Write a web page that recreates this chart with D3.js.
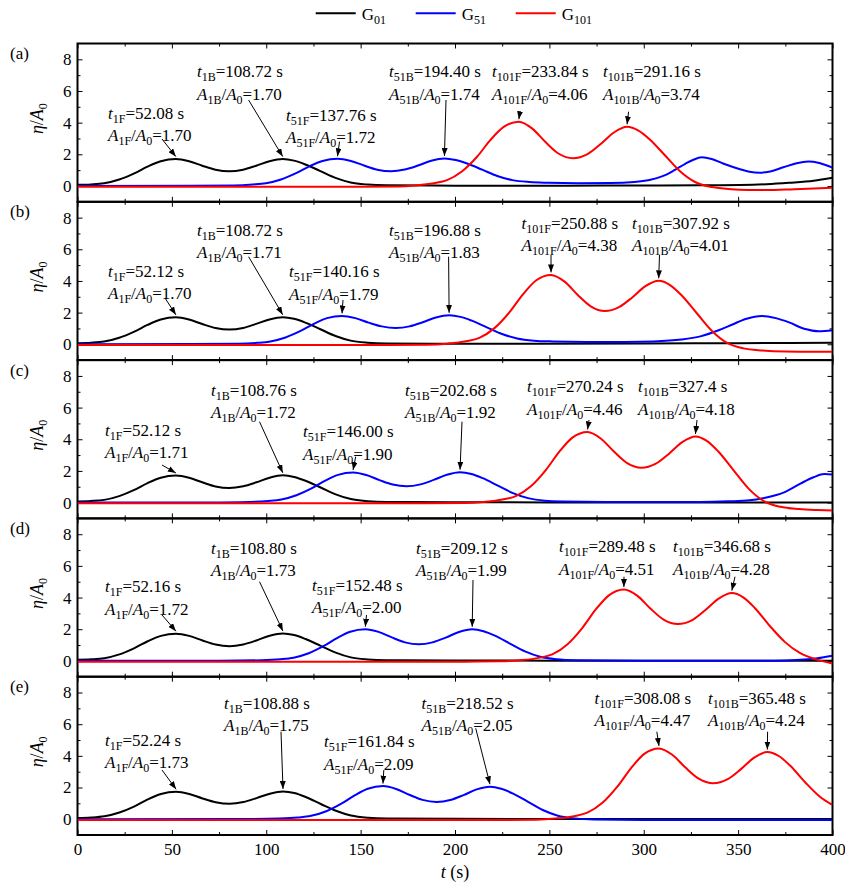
<!DOCTYPE html>
<html>
<head>
<meta charset="utf-8">
<script src="https://cdn.jsdelivr.net/npm/d3@7"></script>
<style>
body { margin: 0; background: #fff; }
text { font-family: "Liberation Serif", "Times New Roman", serif; fill: #000; }
</style>
</head>
<body>
<svg id="chart" width="845" height="886"></svg>
<script>
// ---- data ----
const panelNames = ["(a)", "(b)", "(c)", "(d)", "(e)"];
const seriesSubs = ["01", "51", "101"];
const xTicks = [0, 50, 100, 150, 200, 250, 300, 350, 400];
const xMinor = [25, 75, 125, 175, 225, 275, 325, 375];
const yTicks = [0, 2, 4, 6, 8];
const yMinor = [1, 3, 5, 7];

// [t (s), eta/A0]
const G01 = [
  [[0,0.07],[7.1,0.1],[14.1,0.17],[22.1,0.41],[30.1,0.8],[37.1,1.22],[44.1,1.56],[52.08,1.70],[59.1,1.56],[66.1,1.28],[73.1,1.03],[80.4,0.93],[87.7,1.03],[94.7,1.28],[101.7,1.56],[108.72,1.70],[114.7,1.6],[120.7,1.36],[128.7,0.94],[136.7,0.51],[144.7,0.22],[153.7,0.09],[163.7,0.04],[200,0.02],[260,0.02],[300,0.03],[330,0.04],[351,0.06],[365,0.11],[377,0.2],[390,0.33],[400,0.52]],
  [[0,0.07],[7.1,0.1],[14.1,0.17],[22.1,0.41],[30.1,0.8],[37.1,1.22],[44.1,1.56],[52.12,1.70],[59.1,1.56],[66.1,1.28],[73.1,1.03],[80.4,0.93],[87.7,1.03],[94.7,1.29],[101.7,1.57],[108.72,1.71],[114.7,1.61],[120.7,1.37],[128.7,0.95],[136.7,0.52],[144.7,0.23],[153.7,0.1],[163.7,0.05],[200,0.03],[300,0.05],[350,0.07],[400,0.1]],
  [[0,0.07],[7.1,0.1],[14.1,0.17],[22.1,0.41],[30.1,0.8],[37.1,1.23],[44.1,1.57],[52.12,1.71],[59.1,1.57],[66.1,1.28],[73.1,1.02],[80.4,0.92],[87.8,1.03],[94.8,1.28],[101.8,1.57],[108.76,1.72],[114.8,1.62],[120.8,1.38],[128.8,0.95],[136.8,0.52],[144.8,0.22],[153.8,0.09],[163.8,0.04],[200,0.02],[300,0.01],[400,0.01]],
  [[0,0.07],[7.2,0.1],[14.2,0.17],[22.2,0.41],[30.2,0.81],[37.2,1.24],[44.2,1.58],[52.16,1.72],[59.2,1.58],[66.2,1.29],[73.2,1.03],[80.5,0.93],[87.8,1.04],[94.8,1.29],[101.8,1.59],[108.8,1.73],[114.8,1.63],[120.8,1.38],[128.8,0.95],[136.8,0.52],[144.8,0.22],[153.8,0.09],[163.8,0.04],[200,0.02],[300,0.01],[400,0]],
  [[0,0.07],[7.2,0.1],[14.2,0.18],[22.2,0.42],[30.2,0.81],[37.2,1.25],[44.2,1.59],[52.24,1.73],[59.2,1.59],[66.2,1.31],[73.2,1.07],[80.6,0.97],[87.9,1.08],[94.9,1.33],[101.9,1.61],[108.88,1.75],[114.9,1.65],[120.9,1.4],[128.9,0.96],[136.9,0.53],[144.9,0.23],[153.9,0.09],[163.9,0.04],[200,0.02],[300,0.01],[400,0.01]]
];

const G51 = [
  [[0,0],[60,0.01],[82.8,0.03],[92.8,0.09],[99.8,0.17],[107.8,0.41],[115.8,0.81],[122.8,1.24],[129.8,1.58],[137.76,1.72],[144.8,1.58],[151.8,1.29],[158.8,1.03],[166.1,0.93],[173.4,1.04],[180.4,1.29],[187.4,1.59],[194.4,1.74],[200.4,1.64],[206.4,1.42],[214.4,1.03],[222.4,0.63],[230.4,0.37],[239.4,0.25],[249.4,0.2],[265,0.17],[282,0.18],[295,0.25],[303,0.38],[310,0.62],[316,0.98],[322,1.4],[326,1.64],[330.7,1.81],[336,1.7],[342,1.42],[351,1.06],[356,0.9],[361.6,0.84],[367,0.92],[374,1.18],[381,1.44],[387.2,1.54],[393,1.45],[400,1.16]],
  [[0,0],[60,0.01],[85.2,0.03],[95.2,0.09],[102.2,0.18],[110.2,0.43],[118.2,0.84],[125.2,1.29],[132.2,1.65],[140.16,1.79],[147.2,1.65],[154.2,1.37],[161.2,1.13],[168.5,1.03],[175.9,1.13],[182.9,1.39],[189.9,1.69],[196.88,1.83],[202.9,1.73],[208.9,1.49],[216.9,1.07],[224.9,0.65],[232.9,0.37],[241.9,0.23],[251.9,0.18],[270,0.15],[290,0.15],[305,0.18],[320,0.3],[330,0.5],[340,0.9],[347,1.25],[354,1.6],[362.7,1.79],[370,1.65],[377,1.38],[385,0.98],[392.8,0.82],[400,0.88]],
  [[0,0],[70,0.01],[91,0.04],[101,0.1],[108,0.19],[116,0.46],[124,0.89],[131,1.37],[138,1.75],[146,1.9],[153,1.74],[160,1.42],[167,1.14],[174.3,1.03],[181.7,1.15],[188.7,1.43],[195.7,1.76],[202.68,1.92],[208.7,1.81],[214.7,1.54],[222.7,1.07],[230.7,0.6],[238.7,0.28],[247.7,0.12],[257.7,0.07],[280,0.04],[330,0.04],[345,0.08],[356,0.14],[365,0.32],[374,0.63],[383,1.2],[390,1.6],[395.6,1.8],[400,1.78]],
  [[0,0],[75,0.01],[97.5,0.04],[107.5,0.1],[114.5,0.2],[122.5,0.48],[130.5,0.94],[137.5,1.44],[144.5,1.84],[152.48,2.0],[159.5,1.83],[166.5,1.48],[173.5,1.17],[180.8,1.05],[188.1,1.17],[195.1,1.47],[202.1,1.82],[209.12,1.99],[215.1,1.87],[221.1,1.59],[229.1,1.09],[237.1,0.6],[245.1,0.26],[254.1,0.1],[264.1,0.04],[300,0.01],[360,0.01],[375,0.03],[385,0.08],[392,0.16],[400,0.32]],
  [[0,0],[85,0.01],[106.8,0.04],[116.8,0.1],[123.8,0.21],[131.8,0.5],[139.8,0.98],[146.8,1.5],[153.8,1.92],[161.84,2.09],[168.8,1.91],[175.8,1.54],[182.8,1.22],[190.2,1.09],[197.5,1.21],[204.5,1.52],[211.5,1.88],[218.52,2.05],[224.5,1.92],[230.5,1.63],[238.5,1.11],[246.5,0.58],[254.5,0.22],[263.5,0.05],[273.5,-0.02],[300,-0.05],[400,-0.05]]
];

const G101 = [
  [[0,-0.05],[150,-0.05],[170,-0.03],[178.8,0.03],[188.8,0.17],[195.8,0.37],[203.8,0.93],[211.8,1.86],[218.8,2.91],[225.8,3.73],[233.84,4.06],[240.8,3.64],[247.8,2.79],[254.8,2.05],[262.5,1.75],[270.2,2.01],[277.2,2.65],[284.2,3.38],[291.16,3.74],[297.2,3.5],[303.2,2.94],[311.2,1.94],[319.2,0.93],[327.2,0.25],[336.2,-0.07],[346.2,-0.21],[355,-0.26],[365,-0.26],[380,-0.2],[400,-0.12]],
  [[0,-0.05],[165,-0.05],[185,-0.03],[195.9,0.04],[205.9,0.19],[212.9,0.4],[220.9,1.02],[228.9,2.03],[235.9,3.14],[242.9,4.03],[250.88,4.38],[257.9,3.97],[264.9,3.13],[271.9,2.4],[279.4,2.1],[286.9,2.35],[293.9,2.96],[300.9,3.67],[307.92,4.01],[313.9,3.74],[319.9,3.11],[327.9,1.99],[335.9,0.87],[343.9,0.1],[352.9,-0.26],[362.9,-0.39],[375,-0.46],[390,-0.48],[400,-0.47]],
  [[0,-0.05],[185,-0.05],[205,-0.03],[215.2,0.04],[225.2,0.19],[232.2,0.41],[240.2,1.03],[248.2,2.07],[255.2,3.2],[262.2,4.1],[270.24,4.46],[277.2,4.05],[284.2,3.22],[291.2,2.49],[298.8,2.2],[306.4,2.46],[313.4,3.09],[320.4,3.82],[327.4,4.18],[333.4,3.9],[339.4,3.24],[347.4,2.07],[355.4,0.9],[363.4,0.11],[372.4,-0.27],[382.4,-0.41],[392,-0.47],[400,-0.5]],
  [[0,-0.05],[205,-0.05],[224,-0.03],[234.5,0.04],[244.5,0.19],[251.5,0.41],[259.5,1.04],[267.5,2.09],[274.5,3.23],[281.5,4.14],[289.48,4.51],[296.5,4.12],[303.5,3.31],[310.5,2.61],[318.1,2.33],[325.7,2.58],[332.7,3.21],[339.7,3.93],[346.68,4.28],[352.7,4.01],[358.7,3.36],[366.7,2.22],[374.7,1.2],[382.7,0.5],[391.7,0.08],[400,-0.17]],
  [[0,-0.05],[225,-0.05],[243,-0.03],[253.1,0.04],[263.1,0.19],[270.1,0.41],[278.1,1.03],[286.1,2.07],[293.1,3.2],[300.1,4.11],[308.08,4.47],[315.1,4.07],[322.1,3.26],[329.1,2.56],[336.8,2.27],[344.5,2.53],[351.5,3.16],[358.5,3.89],[365.48,4.24],[371.5,3.99],[377.5,3.39],[385.5,2.33],[393.5,1.4],[400,0.9]]
];

// peak annotations
const peakKeys = ["1F", "1B", "51F", "51B", "101F", "101B"];
const peakT = [
  ["52.08", "108.72", "137.76", "194.40", "233.84", "291.16"],
  ["52.12", "108.72", "140.16", "196.88", "250.88", "307.92"],
  ["52.12", "108.76", "146.00", "202.68", "270.24", "327.4"],
  ["52.16", "108.80", "152.48", "209.12", "289.48", "346.68"],
  ["52.24", "108.88", "161.84", "218.52", "308.08", "365.48"]
];
const peakA = [
  ["1.70", "1.70", "1.72", "1.74", "4.06", "3.74"],
  ["1.70", "1.71", "1.79", "1.83", "4.38", "4.01"],
  ["1.71", "1.72", "1.90", "1.92", "4.46", "4.18"],
  ["1.72", "1.73", "2.00", "1.99", "4.51", "4.28"],
  ["1.73", "1.75", "2.09", "2.05", "4.47", "4.24"]
];

// label placement: [text x, first line centre y, arrow start x, arrow start y] (y relative to panel top)
const labelLayout = [
  [[108,69.5,162,95.5],[197,28.2,248.6,56.5],[286,71.5,339.5,98.2],[389,28.2,446,56.5],[492,28.2,520,68.2],[603,28.2,628.6,68.2]],
  [[108,69.2,165,96.2],[197,28.2,248.6,54.9],[289,69.9,343,98.2],[389,28.2,448.6,54.9],[521.6,21.5,551,53.2],[632,21.5,659.5,53.2]],
  [[105,69.9,162,104.9],[211,29.9,259.5,61.6],[303,71.6,355.7,96.6],[405,29.9,462,61.6],[527,26.6,589,59.9],[638,26.6,697,59.9]],
  [[105,68.3,162,96.6],[211,29.9,259.5,63.3],[312,66.6,366.5,96.6],[416,29.9,473,61.6],[559,28.3,624,58.3],[673,28.3,735,58.3]],
  [[105,63.3,162,93.3],[224,26.6,281,55],[324,65,383.8,93.3],[421.6,26.6,475.7,51.6],[594.6,21.6,656.8,55],[708,21.6,767.6,55]]
];

// ---- layout ----
const colors = ["#000000", "#0000ff", "#ff0000"];
const plotLeft = 77.5, plotRight = 832.5, plotTop = 43.5, panelH = 158.3;
const fs = 17;

const svg = d3.select("#chart");

var defs = svg.append("defs");
defs.append("marker")
    .attr("id", "head")
    .attr("viewBox", "0 0 8 6")
    .attr("refX", 8).attr("refY", 3)
    .attr("markerWidth", 8).attr("markerHeight", 6)
    .attr("markerUnits", "userSpaceOnUse")
    .attr("orient", "auto")
  .append("path")
    .attr("d", "M0,0L8,3L0,6Z")
    .attr("fill", "#000");

var x = d3.scaleLinear().domain([0, 400]).range([plotLeft, plotRight]);

function styleAxis(g) {
  g.select(".domain").remove();
  g.selectAll(".tick line").attr("stroke", "#000").attr("stroke-width", 1);
  g.selectAll(".tick text").attr("font-size", fs).attr("font-family", "Liberation Serif");
}

panelNames.forEach(function(name, i) {
  var y0 = plotTop + i * panelH;
  var y = d3.scaleLinear().domain([-1, 9]).range([y0 + panelH, y0]);
  var gp = svg.append("g");

  defs.append("clipPath").attr("id", "clip" + i)
    .append("rect").attr("x", plotLeft).attr("y", y0).attr("width", plotRight - plotLeft).attr("height", panelH);

  // ticks, all pointing inward
  gp.append("g").attr("transform", "translate(0," + y(-1) + ")")
    .call(d3.axisBottom(x).tickValues(xTicks).tickSizeInner(-5).tickSizeOuter(0).tickPadding(8)
      .tickFormat(i === 4 ? d3.format("d") : ""))
    .call(styleAxis);
  gp.append("g").attr("transform", "translate(0," + y(-1) + ")")
    .call(d3.axisBottom(x).tickValues(xMinor).tickSizeInner(-3).tickSizeOuter(0).tickFormat(""))
    .call(styleAxis);
  gp.append("g").attr("transform", "translate(0," + y(9) + ")")
    .call(d3.axisTop(x).tickValues(xTicks).tickSizeInner(-5).tickSizeOuter(0).tickFormat(""))
    .call(styleAxis);
  gp.append("g").attr("transform", "translate(0," + y(9) + ")")
    .call(d3.axisTop(x).tickValues(xMinor).tickSizeInner(-3).tickSizeOuter(0).tickFormat(""))
    .call(styleAxis);
  gp.append("g").attr("transform", "translate(" + plotLeft + ",0)")
    .call(d3.axisLeft(y).tickValues(yTicks).tickSizeInner(-5).tickSizeOuter(0).tickPadding(6))
    .call(styleAxis);
  gp.append("g").attr("transform", "translate(" + plotLeft + ",0)")
    .call(d3.axisLeft(y).tickValues(yMinor).tickSizeInner(-3).tickSizeOuter(0).tickFormat(""))
    .call(styleAxis);
  gp.append("g").attr("transform", "translate(" + plotRight + ",0)")
    .call(d3.axisRight(y).tickValues(yTicks).tickSizeInner(-5).tickSizeOuter(0).tickFormat(""))
    .call(styleAxis);
  gp.append("g").attr("transform", "translate(" + plotRight + ",0)")
    .call(d3.axisRight(y).tickValues(yMinor).tickSizeInner(-3).tickSizeOuter(0).tickFormat(""))
    .call(styleAxis);

  gp.append("rect")
    .attr("x", plotLeft).attr("y", y0).attr("width", plotRight - plotLeft).attr("height", panelH)
    .attr("fill", "none").attr("stroke", "#000").attr("stroke-width", 2);

  // curves
  var line = d3.line().x(function(d){ return x(d[0]); }).y(function(d){ return y(d[1]); })
    .curve(d3.curveMonotoneX);
  [G01[i], G51[i], G101[i]].forEach(function(s, k) {
    gp.append("path").datum(s)
      .attr("clip-path", "url(#clip" + i + ")")
      .attr("d", line)
      .attr("fill", "none")
      .attr("stroke", colors[k])
      .attr("stroke-width", 2);
  });

  // panel letter
  gp.append("text").attr("x", 10).attr("y", y0 + 15.5).attr("font-size", fs).text(name);

  // y label
  var yl = gp.append("text")
    .attr("transform", "translate(43," + (y0 + panelH / 2 - 4) + ") rotate(-90)")
    .attr("text-anchor", "middle").attr("font-size", 18);
  yl.append("tspan").attr("font-style", "italic").text("η");
  yl.append("tspan").text("/");
  yl.append("tspan").attr("font-style", "italic").text("A");
  yl.append("tspan").attr("font-size", 12).attr("dy", 4).text("0");

  // peak annotations
  peakKeys.forEach(function(key, j) {
    var L = labelLayout[i][j];
    var by = y0 + L[1] + 5.5;
    var t1 = gp.append("text").attr("x", L[0]).attr("y", by).attr("font-size", fs);
    t1.append("tspan").attr("font-style", "italic").text("t");
    t1.append("tspan").attr("font-size", 12).attr("dy", 4).text(key);
    t1.append("tspan").attr("dy", -4).text("=" + peakT[i][j] + " s");

    var t2 = gp.append("text").attr("x", L[0]).attr("y", by + 22.5).attr("font-size", fs);
    t2.append("tspan").attr("font-style", "italic").text("A");
    t2.append("tspan").attr("font-size", 12).attr("dy", 4).text(key);
    t2.append("tspan").attr("dy", -4).text("/");
    t2.append("tspan").attr("font-style", "italic").text("A");
    t2.append("tspan").attr("font-size", 12).attr("dy", 4).text("0");
    t2.append("tspan").attr("dy", -4).text("=" + peakA[i][j]);

    gp.append("line")
      .attr("x1", L[2]).attr("y1", y0 + L[3])
      .attr("x2", x(+peakT[i][j])).attr("y2", y(+peakA[i][j]) - 2.5)
      .attr("stroke", "#000").attr("stroke-width", 1)
      .attr("marker-end", "url(#head)");
  });
});

// x axis title
var xt = svg.append("text").attr("x", (plotLeft + plotRight) / 2).attr("y", 878)
  .attr("text-anchor", "middle").attr("font-size", 18);
xt.append("tspan").attr("font-style", "italic").text("t");
xt.append("tspan").text(" (s)");

// legend
var legend = svg.append("g");
seriesSubs.forEach(function(sub, k) {
  var lx = 315.7 + k * 100;
  legend.append("line").attr("x1", lx).attr("x2", lx + 40).attr("y1", 13.3).attr("y2", 13.3)
    .attr("stroke", colors[k]).attr("stroke-width", 2);
  var lt = legend.append("text").attr("x", lx + 46).attr("y", 19.5).attr("font-size", fs);
  lt.append("tspan").text("G");
  lt.append("tspan").attr("font-size", 12).attr("dy", 4).text(sub);
});
</script>
</body>
</html>
